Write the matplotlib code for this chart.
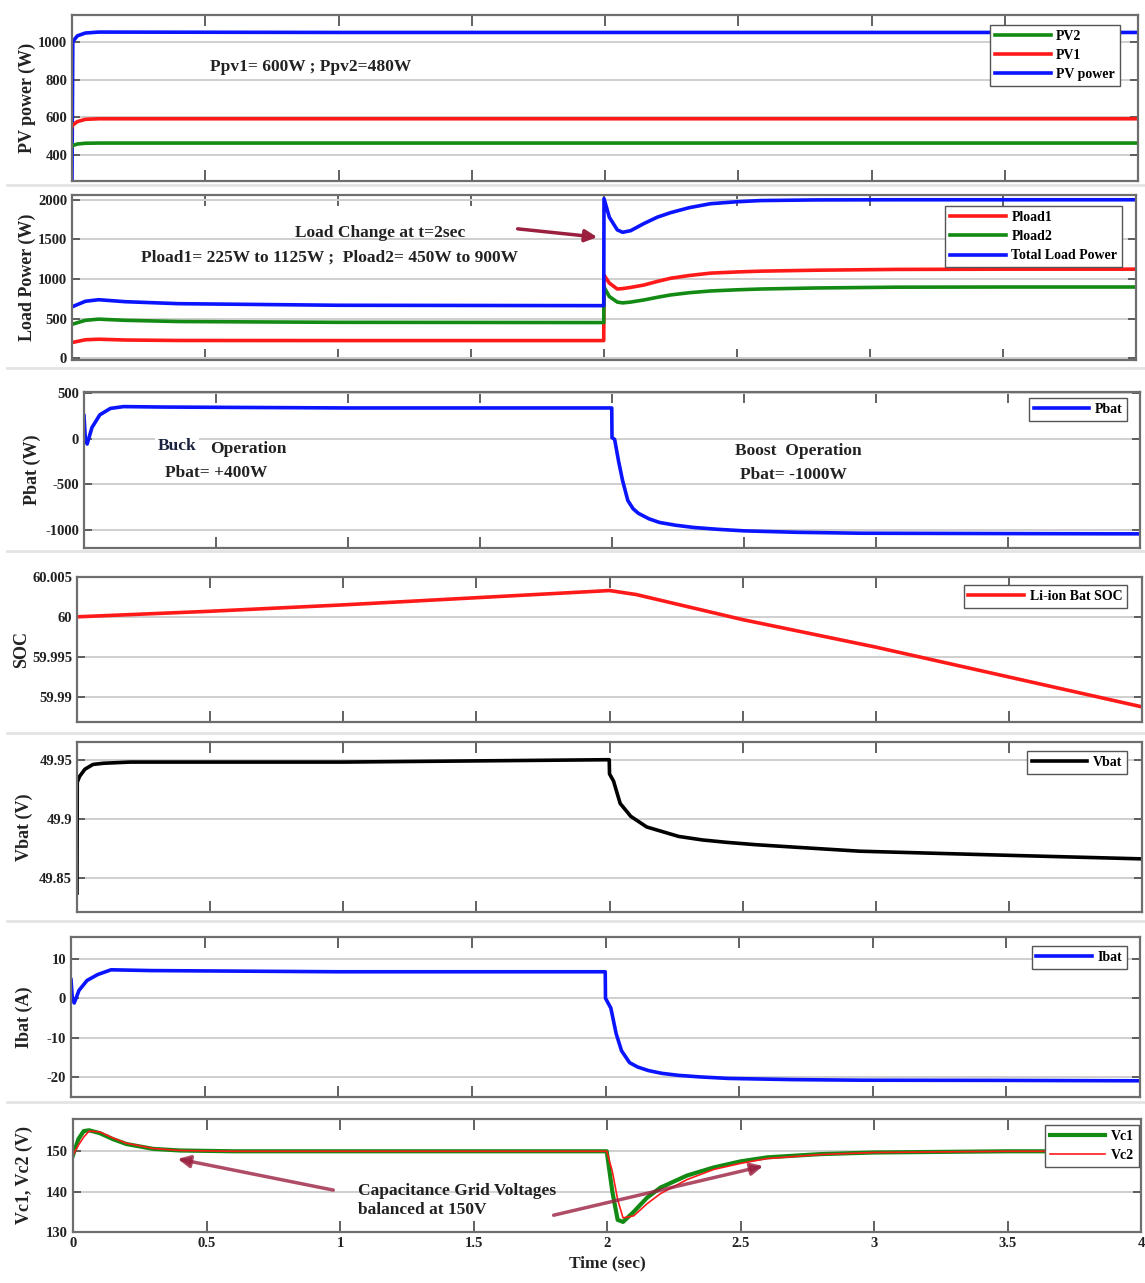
import matplotlib
matplotlib.use("Agg")
import matplotlib.pyplot as plt
from matplotlib.lines import Line2D

plt.rcParams['font.family'] = ['Liberation Serif', 'DejaVu Serif']
plt.rcParams['font.weight'] = 'bold'
plt.rcParams['axes.labelweight'] = 'bold'

# values
x_ticks = [0, 0.5, 1, 1.5, 2, 2.5, 3, 3.5, 4]
x_ticklabels = ["0", "0.5", "1", "1.5", "2", "2.5", "3", "3.5", "4"]

# PV power
t_pv = [0, 0.003, 0.02, 0.05, 0.1, 1, 2, 3, 4]
pv_total = [270, 1000, 1030, 1045, 1050, 1048, 1048, 1048, 1048]
pv1 = [550, 560, 578, 590, 593, 593, 593, 593, 593]
pv2 = [445, 452, 460, 464, 465, 465, 465, 465, 465]

# load power
t_load = [0, 0.05, 0.1, 0.2, 0.4, 1, 1.999, 2.0, 2.02, 2.05, 2.07, 2.1, 2.15, 2.2, 2.25,
          2.32, 2.4, 2.5, 2.59, 2.8, 3.1, 3.5, 4.0]
p_total = [650, 720, 740, 715, 690, 670, 665, 2015, 1780, 1620, 1590, 1610, 1700, 1780, 1837,
           1900, 1950, 1975, 1990, 1998, 2000, 2000, 2000]
pload1 = [200, 235, 242, 232, 226, 225, 225, 1050, 950, 875, 880, 895, 925, 970, 1010,
          1045, 1075, 1090, 1100, 1112, 1122, 1125, 1125]
pload2 = [430, 480, 495, 480, 465, 455, 452, 900, 780, 710, 700, 710, 737, 770, 800,
          828, 850, 865, 875, 888, 898, 900, 900]

# battery power
t_pbat = [0, 0.005, 0.012, 0.03, 0.06, 0.1, 0.15, 0.3, 1, 1.999, 2.0, 2.01, 2.025, 2.04, 2.06,
          2.08, 2.1, 2.14, 2.18, 2.24, 2.31, 2.4, 2.5, 2.7, 2.94, 3.5, 4.0]
pbat = [250, 0, -60, 120, 260, 330, 350, 345, 335, 335, 10, -10, -250, -460, -680,
        -770, -820, -880, -920, -950, -975, -995, -1012, -1028, -1038, -1042, -1045]

# state of charge
t_soc = [0, 0.5, 1, 1.5, 2, 2.1, 2.5, 3, 3.5, 4]
soc = [60.0, 60.0007, 60.0015, 60.0024, 60.0033, 60.0028, 59.99965, 59.9962, 59.99245, 59.9887]

# battery voltage
t_vbat = [0, 0.001, 0.01, 0.03, 0.06, 0.1, 0.2, 1, 1.999, 2.0, 2.015, 2.04, 2.08, 2.14, 2.2,
          2.26, 2.35, 2.44, 2.55, 2.69, 2.94, 3.5, 4.0]
vbat = [49.837, 49.931, 49.936, 49.942, 49.946, 49.947, 49.948, 49.948, 49.95, 49.938, 49.932,
        49.913, 49.902, 49.893, 49.889, 49.885, 49.882, 49.88, 49.878, 49.876, 49.8725,
        49.869, 49.866]

# battery current
t_ibat = [0, 0.005, 0.012, 0.03, 0.06, 0.1, 0.15, 0.3, 1, 1.999, 2.0, 2.02, 2.04, 2.06, 2.09,
          2.12, 2.16, 2.21, 2.27, 2.35, 2.46, 2.7, 2.96, 3.5, 4.0]
ibat = [4.7, 0, -1.2, 2, 4.5, 6, 7.2, 7, 6.7, 6.7, 0, -2.5, -9, -13.3, -16.3,
        -17.4, -18.3, -19, -19.5, -19.9, -20.3, -20.6, -20.75, -20.8, -20.9]

# capacitor voltages
t_vc = [0, 0.02, 0.04, 0.06, 0.1, 0.15, 0.2, 0.3, 0.4, 0.6, 1.999, 2.0, 2.02, 2.04, 2.06,
        2.1, 2.15, 2.2, 2.3, 2.4, 2.5, 2.6, 2.8, 3.0, 3.5, 4.0]
vc1 = [149, 153, 155, 155.2, 154.5, 153, 151.8, 150.6, 150.2, 150, 150, 149.5, 140, 133, 132.5,
       135, 138.5, 141, 144, 146, 147.5, 148.5, 149.3, 149.7, 150, 150]
vc2 = [149, 151.5, 153.5, 155, 154.8, 153.3, 152, 150.7, 150.2, 150, 150, 149.8, 145, 138, 133.5,
       134, 137, 139.5, 143, 145.5, 147, 148.2, 149.2, 149.7, 150, 150]

BLUE, RED, GREEN = '#0a14ff', '#ff1a1a', '#138a13'
ARROW = '#9b2040'

W, H = 1145, 1283
fig = plt.figure(figsize=(W / 100, H / 100), dpi=100)

# light gray seams between the stacked figures
for yy in [185, 368, 551, 733, 921, 1102]:
    fig.add_artist(Line2D([7 / W, 1], [1 - yy / H] * 2, color='#e4e4e4', lw=2))


def make_ax(l, t, r, b, ylim, yticks, yticklabels, ylabel, lab_x):
    ax = fig.add_axes([l / W, 1 - b / H, (r - l) / W, (b - t) / H])
    ax.set_xlim(0, 4)
    ax.set_ylim(*ylim)
    ax.set_xticks(x_ticks)
    ax.set_xticklabels([])
    ax.set_yticks(yticks)
    ax.set_yticklabels(yticklabels)
    ax.grid(axis='y', color='#cfcfcf', lw=1.4)
    ax.set_axisbelow(True)
    ax.tick_params(direction='in', top=True, right=True, colors='#555555',
                   labelcolor='#222222', labelsize=10.5, width=1.3)
    ax.tick_params(axis='x', length=8)
    ax.tick_params(axis='y', length=6)
    for sp in ax.spines.values():
        sp.set_color('#6e6e6e')
        sp.set_linewidth(1.6)
    ax.set_ylabel(ylabel, fontsize=13, color='#222222')
    ax.yaxis.set_label_coords((lab_x + 8 - l) / (r - l), 0.5)
    return ax


def add_legend(ax, handles, labels, anchor):
    ax.legend(handles, labels, loc='upper right', bbox_to_anchor=anchor, fontsize=10,
              handlelength=4, frameon=True, fancybox=False, edgecolor='#555555',
              framealpha=1, borderpad=0.35, labelspacing=0.45, handletextpad=0.4,
              borderaxespad=0)


txt = dict(fontsize=12.5, color='#222222', va='center', ha='left')
LW = 2.6

# PV power
ax1 = make_ax(72, 15, 1138, 181, (265, 1140), [400, 600, 800, 1000],
              ["400", "600", "800", "1000"], "PV power (W)", 28)
l_tot, = ax1.plot(t_pv, pv_total, color=BLUE, lw=LW)
l_pv1, = ax1.plot(t_pv, pv1, color=RED, lw=LW)
l_pv2, = ax1.plot(t_pv, pv2, color=GREEN, lw=LW)
add_legend(ax1, [l_pv2, l_pv1, l_tot], ["PV2", "PV1", "PV power"], (0.983, 0.94))
ax1.text(0.518, 868, "Ppv1= 600W ; Ppv2=480W", **txt)

# load power
ax2 = make_ax(72, 195, 1136, 360, (-20, 2060), [0, 500, 1000, 1500, 2000],
              ["0", "500", "1000", "1500", "2000"], "Load Power (W)", 28)
l_p1, = ax2.plot(t_load, pload1, color=RED, lw=LW)
l_p2, = ax2.plot(t_load, pload2, color=GREEN, lw=LW)
l_pt, = ax2.plot(t_load, p_total, color=BLUE, lw=LW)
add_legend(ax2, [l_p1, l_p2, l_pt], ["Pload1", "Pload2", "Total Load Power"], (0.987, 0.933))
ax2.text(0.837, 1575, "Load Change at t=2sec", **txt)
ax2.text(0.26, 1275, "Pload1= 225W to 1125W ;  Pload2= 450W to 900W", **txt)
ax2.annotate('', xy=(1.985, 1525), xytext=(1.665, 1637),
             arrowprops=dict(arrowstyle='-|>', color=ARROW, lw=2.5, mutation_scale=18))

# battery power
ax3 = make_ax(84, 392, 1140, 548, (-1200, 510), [-1000, -500, 0, 500],
              ["-1000", "-500", "0", "500"], "Pbat (W)", 33)
l_pb, = ax3.plot(t_pbat, pbat, color=BLUE, lw=LW)
add_legend(ax3, [l_pb], ["Pbat"], (0.988, 0.96))
ax3.text(0.28, -80, "Buck", fontsize=12.5, color='#1c2340', va='center', ha='left',
         bbox=dict(facecolor='white', edgecolor='none', pad=2))
ax3.text(0.477, -120, "Operation", **txt)
ax3.text(0.307, -383, "Pbat= +400W", **txt)
ax3.text(2.466, -142, "Boost  Operation", **txt)
ax3.text(2.485, -405, "Pbat= -1000W", **txt)

# SOC
ax4 = make_ax(77, 577, 1142, 722, (59.9868, 60.005), [59.99, 59.995, 60, 60.005],
              ["59.99", "59.995", "60", "60.005"], "SOC", 22)
l_soc, = ax4.plot(t_soc, soc, color=RED, lw=LW)
add_legend(ax4, [l_soc], ["Li-ion Bat SOC"], (0.986, 0.945))

# battery voltage
ax5 = make_ax(77, 742, 1142, 912, (49.821, 49.965), [49.85, 49.9, 49.95],
              ["49.85", "49.9", "49.95"], "Vbat (V)", 25)
l_vb, = ax5.plot(t_vbat, vbat, color='black', lw=LW)
add_legend(ax5, [l_vb], ["Vbat"], (0.986, 0.947))

# battery current
ax6 = make_ax(71, 937, 1140, 1097, (-25, 15.5), [-20, -10, 0, 10],
              ["-20", "-10", "0", "10"], "Ibat (A)", 25)
l_ib, = ax6.plot(t_ibat, ibat, color=BLUE, lw=LW)
add_legend(ax6, [l_ib], ["Ibat"], (0.988, 0.944))

# capacitor voltages
ax7 = make_ax(73, 1119, 1141, 1232, (130, 158), [130, 140, 150],
              ["130", "140", "150"], "Vc1, Vc2 (V)", 25)
l_v1, = ax7.plot(t_vc, vc1, color=GREEN, lw=3)
l_v2, = ax7.plot(t_vc, vc2, color=RED, lw=1.2)
add_legend(ax7, [l_v1, l_v2], ["Vc1", "Vc2"], (0.998, 0.947))
ax7.set_xticklabels(x_ticklabels)
ax7.set_xlabel("Time (sec)", fontsize=12.5, color='#222222', labelpad=4)
ax7.text(1.067, 140.25, "Capacitance Grid Voltages", **txt)
ax7.text(1.067, 135.5, "balanced at 150V", **txt)
ax7.annotate('', xy=(0.382, 148.25), xytext=(0.985, 140.25),
             arrowprops=dict(arrowstyle='-|>', color=ARROW, lw=2.5, alpha=0.8, mutation_scale=18))
ax7.annotate('', xy=(2.595, 146.5), xytext=(1.79, 134),
             arrowprops=dict(arrowstyle='-|>', color=ARROW, lw=2.5, alpha=0.8, mutation_scale=18))

fig.savefig("out.png", dpi=100)
